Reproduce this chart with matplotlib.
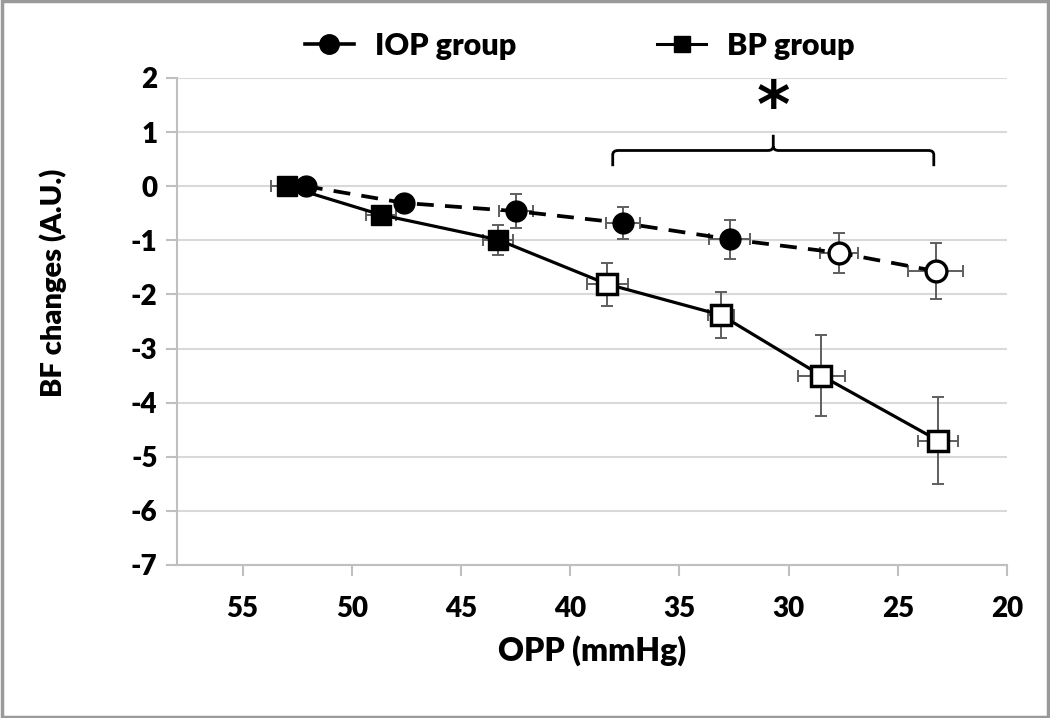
import matplotlib
matplotlib.use("Agg")
import matplotlib.pyplot as plt
from matplotlib.lines import Line2D
from matplotlib.patches import Rectangle, PathPatch
from matplotlib.path import Path

plt.rcParams['font.family'] = ['Lato', 'DejaVu Sans']
plt.rcParams['font.weight'] = 'heavy'
FW = 'heavy'

# IOP group
iop_x = [52.1, 47.6, 42.5, 37.6, 32.7, 27.7, 23.25]
iop_y = [0.0, -0.31, -0.46, -0.68, -0.98, -1.23, -1.57]
iop_xerr = [0.0, 0.3, 0.78, 0.78, 0.92, 0.87, 1.26]
iop_yerr = [0.0, 0.12, 0.31, 0.30, 0.36, 0.37, 0.52]
iop_open = [False, False, False, False, False, True, True]

# BP group
bp_x = [52.95, 48.65, 43.3, 38.3, 33.1, 28.5, 23.15]
bp_y = [0.0, -0.53, -0.99, -1.81, -2.38, -3.50, -4.70]
bp_xerr = [0.73, 0.69, 0.69, 0.94, 0.60, 1.08, 0.92]
bp_yerr = [0.0, 0.08, 0.28, 0.40, 0.42, 0.75, 0.81]
bp_open = [False, False, False, True, True, True, True]

x_ticks = [55, 50, 45, 40, 35, 30, 25, 20]
y_ticks = [2, 1, 0, -1, -2, -3, -4, -5, -6, -7]

fig = plt.figure(figsize=(10.5, 7.18), dpi=100)
ax = fig.add_axes([0.1686, 0.2131, 0.9590 - 0.1686, 0.8914 - 0.2131])

ebc = '#5e5e5e'
# error bars
ax.errorbar(iop_x, iop_y, xerr=iop_xerr, yerr=iop_yerr, fmt='none',
            ecolor=ebc, elinewidth=1.4, capsize=4, capthick=1.4, zorder=2)
ax.errorbar(bp_x, bp_y, xerr=bp_xerr, yerr=bp_yerr, fmt='none',
            ecolor=ebc, elinewidth=1.4, capsize=4, capthick=1.4, zorder=2)

# lines
ax.plot(iop_x, iop_y, color='black', lw=2.7, ls=(0, (4.5, 3)), zorder=3)
ax.plot(bp_x, bp_y, color='black', lw=2.3, ls='-', zorder=3)

# markers
for x, y, o in zip(iop_x, iop_y, iop_open):
    ax.plot([x], [y], marker='o', ms=15, mfc='white' if o else 'black',
            mec='black', mew=2.4 if o else 1.0, ls='none', zorder=5)
for x, y, o in zip(bp_x, bp_y, bp_open):
    ax.plot([x], [y], marker='s', ms=14, mfc='white' if o else 'black',
            mec='black', mew=2.5 if o else 1.0, ls='none', zorder=4)

ax.set_xlim(58, 20)
ax.set_ylim(-7, 2)
ax.set_xticks(x_ticks)
ax.set_yticks(y_ticks)
ax.set_xticklabels([str(t) for t in x_ticks], fontsize=20, fontweight=FW)
ax.set_yticklabels([str(t) for t in y_ticks], fontsize=20, fontweight=FW)
ax.yaxis.grid(True, color='#d9d9d9', lw=1.5, zorder=0)
ax.set_axisbelow(True)
for s in ['top', 'right']:
    ax.spines[s].set_visible(False)
for s in ['left', 'bottom']:
    ax.spines[s].set_color('#bfbfbf')
    ax.spines[s].set_linewidth(1.5)
ax.tick_params(axis='both', direction='out', color='#bfbfbf', width=1.5, length=8)
ax.tick_params(axis='x', pad=14)
ax.tick_params(axis='y', pad=6)

ax.set_xlabel('OPP (mmHg)', fontsize=23, fontweight=FW, labelpad=10)
fig.text(0.051, 1 - 283 / 718, 'BF changes (A.U.)', rotation=90, fontsize=21,
         fontweight=FW, ha='center', va='center')

# significance bracket
xl, xr, xc = 38.05, 23.35, 30.7
yh, ye, yp = 0.66, 0.37, 0.95
r = 0.25
verts = [(xl, ye), (xl, yh - 0.08), (xl, yh), (xl - r, yh),
         (xc + r, yh), (xc, yh), (xc, yh + 0.08), (xc, yp),
         (xc, yh + 0.08), (xc, yh), (xc - r, yh),
         (xr + r, yh), (xr, yh), (xr, yh - 0.08), (xr, ye)]
codes = [Path.MOVETO, Path.LINETO, Path.CURVE3, Path.CURVE3,
         Path.LINETO, Path.CURVE3, Path.CURVE3, Path.LINETO,
         Path.MOVETO, Path.CURVE3, Path.CURVE3,
         Path.LINETO, Path.CURVE3, Path.CURVE3, Path.LINETO]
ax.add_patch(PathPatch(Path(verts, codes), fill=False, lw=2.0, ec='black',
                       zorder=6, clip_on=False))
ax.text(xc, 1.42, '*', fontsize=46, fontweight='bold', ha='center',
        va='center', family='DejaVu Sans')

# legend
h_iop = Line2D([], [], color='black', lw=2.6, marker='o', ms=14, mfc='black', mec='black')
h_bp = Line2D([], [], color='black', lw=2.2, marker='s', ms=11, mfc='black', mec='black')
leg = fig.legend([h_iop, h_bp], ['IOP group', 'BP group'], ncol=2,
                 loc='center', bbox_to_anchor=(580 / 1050, 1 - 46 / 718),
                 frameon=False, handlelength=1.6, columnspacing=4.6,
                 handletextpad=0.7, prop={'size': 22, 'weight': FW})

# figure border
fig.patches.append(Rectangle((0.0015, 0.002), 0.997, 0.996, transform=fig.transFigure,
                             fill=False, ec='#9a9a9a', lw=2.5))

fig.savefig('out.png', dpi=100)
